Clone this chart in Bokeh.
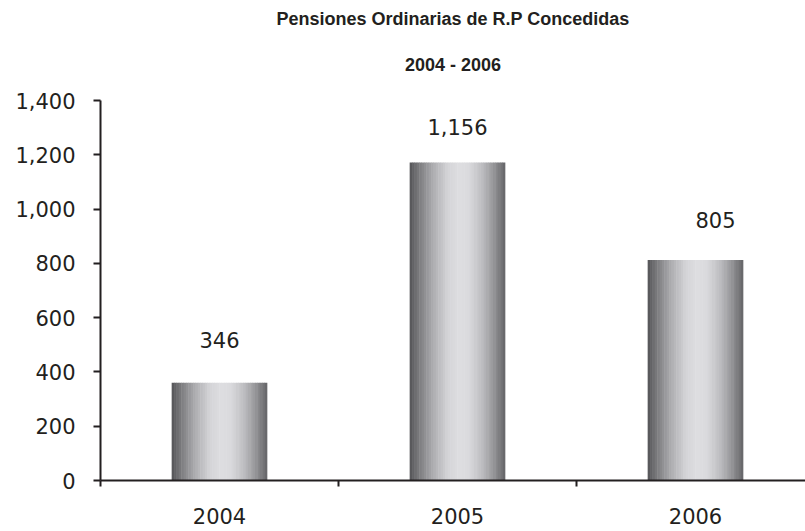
from bokeh.plotting import figure
from bokeh.models import Title, FixedTicker, Range1d, ColumnDataSource, NumeralTickFormatter
from bokeh.core.properties import value
from bokeh.embed import file_html
from bokeh.resources import INLINE

# ---- data ----
years = ["2004", "2005", "2006"]
bar_values = [360, 1172, 812]          # bar heights as drawn
label_values = [346, 1156, 805]        # printed data labels
y_ticks = [0, 200, 400, 600, 800, 1000, 1200, 1400]
title_lines = ["Pensiones Ordinarias de R.P Concedidas", "2004 - 2006"]

# ---- style ----
label_dx = [0, 0, 20]
label_dy = [43, 35, 40]
FONT = "DejaVu Sans"
TFONT = "Liberation Sans"
TXT = "#231f20"

p = figure(width=805, height=531, output_backend="svg", toolbar_location=None,
           x_range=Range1d(0, 705 / 238), y_range=Range1d(0, 1400),
           min_border_left=100, min_border_right=0, min_border_top=100, min_border_bottom=51)
p.grid.visible = False
p.outline_line_color = None
p.background_fill_color = "white"
p.border_fill_color = "white"

xc = [i + 0.5 for i in range(len(years))]

# cylinder-like gradient via thin strips
stops = [(0.0, 84), (0.1, 124), (0.25, 174), (0.4, 212), (0.52, 222), (0.62, 218),
         (0.75, 192), (0.88, 150), (1.0, 100)]
def shade(t):
    for (t0, v0), (t1, v1) in zip(stops[:-1], stops[1:]):
        if t0 <= t <= t1:
            v = v0 + (v1 - v0) * (t - t0) / (t1 - t0)
            v = int(round(v))
            return "#%02x%02x%02x" % (v, v, min(255, v + 3))
    return "#888888"

BW = 0.4
N = 40
sw = BW / N
for k in range(N):
    t = (k + 0.5) / N
    off = -BW / 2 + (k + 0.5) * sw
    src = ColumnDataSource(dict(x=[c + off for c in xc], top=bar_values))
    p.vbar(x="x", top="top", bottom=0, width=sw * 1.2, source=src,
           fill_color=shade(t), line_color=None)

# data labels
lsrc = ColumnDataSource(dict(x=xc, y=bar_values,
                             txt=["{:,}".format(v) for v in label_values],
                             dx=label_dx, dy=[-d for d in label_dy]))
p.text(x="x", y="y", text="txt", x_offset="dx", y_offset="dy", source=lsrc,
       text_align="center", text_baseline="middle", text_font_size=value("21px"),
       text_font=value(FONT), text_color=TXT)

# y axis
ya = p.yaxis[0]
ya.ticker = FixedTicker(ticks=y_ticks)
ya.formatter = NumeralTickFormatter(format="0,0")
ya.major_label_text_font = FONT
ya.major_label_text_font_size = "21px"
ya.major_label_text_color = TXT
ya.axis_line_color = TXT
ya.axis_line_width = 2
ya.major_tick_line_color = TXT
ya.major_tick_line_width = 2
ya.major_tick_out = 7
ya.major_tick_in = 0
ya.minor_tick_line_color = None
ya.major_label_standoff = 18

# x axis: labels at category centers, ticks at boundaries
xa = p.xaxis[0]
xa.ticker = FixedTicker(ticks=xc, minor_ticks=[0, 1, 2, 3])
xa.major_label_overrides = {c: y for c, y in zip(xc, years)}
xa.major_label_text_font = FONT
xa.major_label_text_font_size = "21px"
xa.major_label_text_color = TXT
xa.axis_line_color = TXT
xa.axis_line_width = 2
xa.major_tick_line_color = None
xa.major_tick_out = 0
xa.major_tick_in = 0
xa.minor_tick_line_color = TXT
xa.minor_tick_line_width = 2
xa.minor_tick_out = 6
xa.minor_tick_in = 0
xa.major_label_standoff = 21

# titles: line 2 nearest the plot, line 1 above it
p.title.text = title_lines[0]
p.title.align = "center"
p.title.vertical_align = "top"
p.title.text_font = TFONT
p.title.text_font_size = "18px"
p.title.text_font_style = "bold"
p.title.text_color = TXT
p.title.standoff = 0
sub = Title(text=title_lines[1], align="center", vertical_align="top", text_font=TFONT,
            text_font_size="18px", text_font_style="bold", text_color=TXT, standoff=48)
p.above.insert(0, sub)

open("out.html", "w").write(file_html(p, INLINE))
